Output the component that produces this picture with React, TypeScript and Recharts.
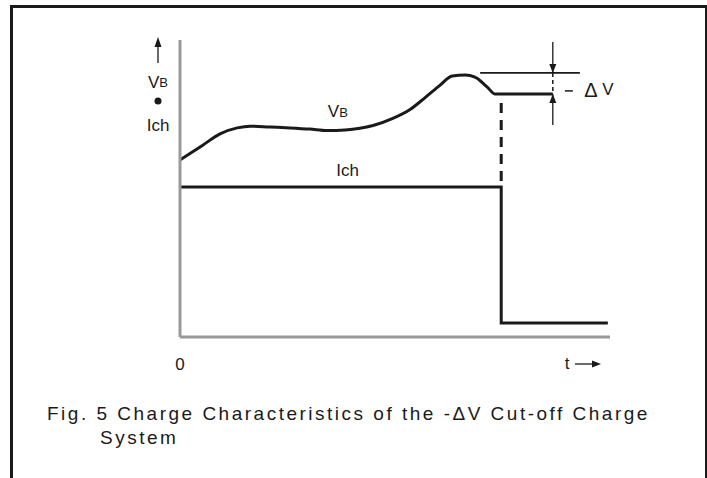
import React from 'react';
import { ComposedChart, Line, XAxis, YAxis, ReferenceLine, ReferenceDot } from 'recharts';

// battery voltage curve (t, V), arbitrary 0..100 units
const vbTime = [0, 5.3, 9.3, 13.3, 16.3, 20.9, 25.6, 30.2, 34.2, 38.4, 44.9, 49.5, 53.5, 57, 60.5, 63.3, 66.3, 68.6, 71.4, 73.3, 86.7];
const vbLevel = [59.6, 64.6, 68.4, 70.4, 71.0, 70.7, 70.4, 70.0, 69.5, 69.7, 71.2, 73.6, 76.6, 80.6, 84.8, 87.9, 88.2, 87.5, 84.2, 81.8, 81.8];

// charge current
const ichTime = [0, 74.7, 74.7, 99.5];
const ichLevel = [50.5, 50.5, 4.7, 4.7];

// -dV marker
const peakLevel = 88.9;
const peakLineTime = [69.8, 93];
const cutoffTime = 74.7;
const dropLevel = 81.8;
const markerTime = 86.7;
const arrowTop = 99.3;
const arrowBottom = 71.4;

const xTicks = [0];

const vbData = vbTime.map((t, i) => ({ t, v: vbLevel[i] }));
const ichData = ichTime.map((t, i) => ({ t, v: ichLevel[i] }));

const FONT = '"Liberation Sans", Arial, Helvetica, sans-serif';
const INK = '#1a1a1a';

const textShape = (content: React.ReactNode, anchor: 'middle' | 'start' = 'middle') => (p: any) => (
  <text x={p.cx} y={p.cy} textAnchor={anchor} dominantBaseline="central" fontFamily={FONT} fontSize={17} fill={INK}>
    {content}
  </text>
);

const arrowHead = (dir: 'down' | 'up') => (p: any) => {
  const { cx, cy } = p;
  const pts = dir === 'down'
    ? `${cx},${cy} ${cx - 3.5},${cy - 9} ${cx + 3.5},${cy - 9}`
    : `${cx},${cy} ${cx - 3.5},${cy + 9} ${cx + 3.5},${cy + 9}`;
  return <polygon points={pts} fill={INK} />;
};

const YTitle = (props: any) => {
  const vb = props.viewBox || {};
  const x = vb.x + 8;
  const top = vb.y;
  return (
    <g fontFamily={FONT} fill={INK}>
      <line x1={x} y1={top + 23} x2={x} y2={top + 4} stroke={INK} strokeWidth={1.3} />
      <polygon points={`${x},${top - 3} ${x - 3.5},${top + 7} ${x + 3.5},${top + 7}`} fill={INK} />
      <text x={x} y={top + 42} textAnchor="middle" dominantBaseline="central" fontSize={17}>
        V<tspan fontSize={13}>B</tspan>
      </text>
      <circle cx={x} cy={top + 61} r={3.5} fill={INK} />
      <text x={x} y={top + 85} textAnchor="middle" dominantBaseline="central" fontSize={17}>Ich</text>
    </g>
  );
};

const XTitle = (props: any) => {
  const vb = props.viewBox || {};
  const y = vb.y + 26;
  const x = vb.x + vb.width - 43;
  return (
    <g fontFamily={FONT} fill={INK}>
      <text x={x} y={y} textAnchor="middle" dominantBaseline="central" fontSize={17}>t</text>
      <line x1={x + 8} y1={y + 1} x2={x + 28} y2={y + 1} stroke={INK} strokeWidth={1.3} />
      <polygon points={`${x + 34},${y + 1} ${x + 25},${y - 2.5} ${x + 25},${y + 4.5}`} fill={INK} />
    </g>
  );
};

const ZeroTick = (props: any) => (
  <text x={props.x} y={props.y} textAnchor="middle" dominantBaseline="central" fontFamily={FONT} fontSize={17} fill={INK}>
    {props.payload.value}
  </text>
);

const DeltaV = (p: any) => (
  <g fontFamily={FONT} fill={INK}>
    <line x1={p.cx} y1={p.cy + 1} x2={p.cx + 8} y2={p.cy + 1} stroke={INK} strokeWidth={1.5} />
    <text x={p.cx + 26} y={p.cy} textAnchor="middle" dominantBaseline="central" fontSize={17}>
      <tspan fontSize={20}>&#916;</tspan>
    </text>
    <text x={p.cx + 43} y={p.cy} textAnchor="middle" dominantBaseline="central" fontSize={17}>V</text>
  </g>
);

export default function App() {
  return (
    <div style={{ position: 'relative', width: 707, height: 478, background: '#fff', overflow: 'hidden' }}>
      <style>{'body{margin:0}'}</style>
      <div style={{ position: 'absolute', left: 10, top: 5, width: 692, height: 480, border: `3px solid ${INK}`, borderBottom: 'none' }} />
      <div style={{ position: 'absolute', left: 0, top: 0 }}>
        <ComposedChart width={707} height={400} margin={{ top: 40, right: 97, left: 150, bottom: 23 }}>
          <XAxis
            type="number"
            dataKey="t"
            domain={[0, 100]}
            ticks={xTicks}
            tickLine={false}
            tickSize={0}
            tick={<ZeroTick />}
            tickMargin={27}
            axisLine={{ stroke: '#999', strokeWidth: 3 }}
            height={40}
            label={<XTitle />}
          />
          <YAxis
            type="number"
            domain={[0, 100]}
            tick={false}
            tickLine={false}
            axisLine={{ stroke: '#999', strokeWidth: 3 }}
            width={30}
            label={<YTitle />}
          />
          <Line data={vbData} dataKey="v" type="monotone" stroke={INK} strokeWidth={3} dot={false} activeDot={false} isAnimationActive={false} />
          <Line data={ichData} dataKey="v" type="linear" stroke={INK} strokeWidth={3} dot={false} activeDot={false} isAnimationActive={false} />
          <ReferenceLine segment={[{ x: peakLineTime[0], y: peakLevel }, { x: peakLineTime[1], y: peakLevel }]} stroke={INK} strokeWidth={1.8} />
          <ReferenceLine segment={[{ x: cutoffTime, y: dropLevel - 3 }, { x: cutoffTime, y: ichLevel[0] }]} stroke={INK} strokeWidth={3} strokeDasharray="10 7" />
          <ReferenceLine segment={[{ x: markerTime, y: arrowTop }, { x: markerTime, y: peakLevel }]} stroke={INK} strokeWidth={1.3} />
          <ReferenceLine segment={[{ x: markerTime, y: peakLevel }, { x: markerTime, y: dropLevel }]} stroke={INK} strokeWidth={1.5} strokeDasharray="4 3" />
          <ReferenceLine segment={[{ x: markerTime, y: dropLevel }, { x: markerTime, y: arrowBottom }]} stroke={INK} strokeWidth={1.3} />
          <ReferenceDot x={markerTime} y={peakLevel} r={0} shape={arrowHead('down')} ifOverflow="visible" />
          <ReferenceDot x={markerTime} y={dropLevel} r={0} shape={arrowHead('up')} ifOverflow="visible" />
          <ReferenceDot x={89.5} y={83.2} r={0} shape={DeltaV} ifOverflow="visible" />
          <ReferenceDot x={36.7} y={75.8} r={0} shape={textShape(<>V<tspan fontSize={13}>B</tspan></>)} ifOverflow="visible" />
          <ReferenceDot x={39} y={56} r={0} shape={textShape('Ich')} ifOverflow="visible" />
        </ComposedChart>
      </div>
      <div style={{ position: 'absolute', left: 47, top: 402, fontFamily: FONT, fontSize: 19, letterSpacing: 2.5, color: INK, whiteSpace: 'nowrap', lineHeight: '24px' }}>
        Fig. 5 Charge Characteristics of the -ΔV Cut-off Charge
      </div>
      <div style={{ position: 'absolute', left: 100, top: 426, fontFamily: FONT, fontSize: 19, letterSpacing: 2.5, color: INK, whiteSpace: 'nowrap', lineHeight: '24px' }}>
        System
      </div>
    </div>
  );
}
